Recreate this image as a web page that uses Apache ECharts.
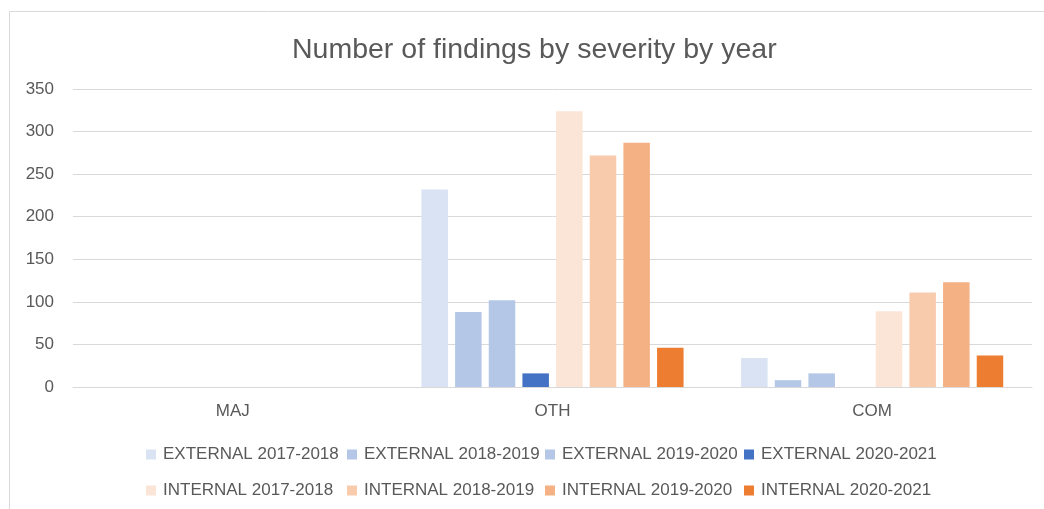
<!DOCTYPE html>
<html>
<head>
<meta charset="utf-8">
<script src="https://cdn.jsdelivr.net/npm/echarts@6/dist/echarts.min.js"></script>
<style>
  html, body { margin: 0; padding: 0; background: #fff; }
  #chart { width: 1044px; height: 509px; }
</style>
</head>
<body>
<div id="chart"></div>
<script>
// severity categories
const categories = ['MAJ', 'OTH', 'COM']

// findings per year
const ext1718 = [0, 232, 34]
const ext1819 = [0, 88, 8]
const ext1920 = [0, 102, 16]
const ext2021 = [0, 16, 0]
const int1718 = [0, 324, 89]
const int1819 = [0, 272, 111]
const int1920 = [0, 287, 123]
const int2021 = [0, 46, 37]

const seriesNames = [
  'EXTERNAL 2017-2018', 'EXTERNAL 2018-2019', 'EXTERNAL 2019-2020', 'EXTERNAL 2020-2021',
  'INTERNAL 2017-2018', 'INTERNAL 2018-2019', 'INTERNAL 2019-2020', 'INTERNAL 2020-2021'
]
const seriesData = [ext1718, ext1819, ext1920, ext2021, int1718, int1819, int1920, int2021]
const colors = ['#DAE3F3', '#B4C7E7', '#B4C7E7', '#4472C4', '#FBE5D6', '#F8CBAD', '#F4B183', '#ED7D31']

const font = '"Liberation Sans", Arial, sans-serif'
const textColor = '#595959'

const chart = echarts.init(document.getElementById('chart'))

// legend laid out in two rows of four columns, like the original
const legendCols = [146, 347, 545, 744]
const legendRows = [446, 482]
const legends = seriesNames.map((name, i) => ({
  data: [name],
  left: legendCols[i % 4],
  top: legendRows[Math.floor(i / 4)],
  padding: 0,
  itemWidth: 10,
  itemHeight: 10,
  itemGap: 0,
  icon: 'rect',
  selectedMode: false,
  textStyle: { fontFamily: font, fontSize: 17, color: textColor, padding: [0, 0, 0, 2] }
}))

chart.setOption({
  backgroundColor: '#fff',
  animation: false,
  color: colors,
  title: {
    text: 'Number of findings by severity by year',
    left: 287,
    top: 31,
    textStyle: { fontFamily: font, fontSize: 28.5, fontWeight: 'normal', color: textColor }
  },
  graphic: [{
    type: 'rect',
    shape: { x: 9.5, y: 11.5, width: 1200, height: 700 },
    style: { fill: 'none', stroke: '#d9d9d9', lineWidth: 1 },
    silent: true
  }],
  legend: legends,
  grid: { left: 73, right: 12, top: 89, bottom: 122 },
  xAxis: {
    type: 'category',
    data: categories,
    axisLine: { lineStyle: { color: '#d9d9d9', width: 1 } },
    axisTick: { show: false },
    axisLabel: { fontFamily: font, fontSize: 17, color: textColor, margin: 16 }
  },
  yAxis: {
    type: 'value',
    min: 0,
    max: 350,
    interval: 50,
    axisLine: { show: false },
    axisTick: { show: false },
    splitLine: { lineStyle: { color: '#d9d9d9', width: 1 } },
    axisLabel: { fontFamily: font, fontSize: 17, color: textColor, margin: 19 }
  },
  series: seriesNames.map((name, i) => ({
    name: name,
    type: 'bar',
    data: seriesData[i],
    barGap: '27%',
    barCategoryGap: '18%',
    itemStyle: { color: colors[i] }
  }))
})
</script>
</body>
</html>
